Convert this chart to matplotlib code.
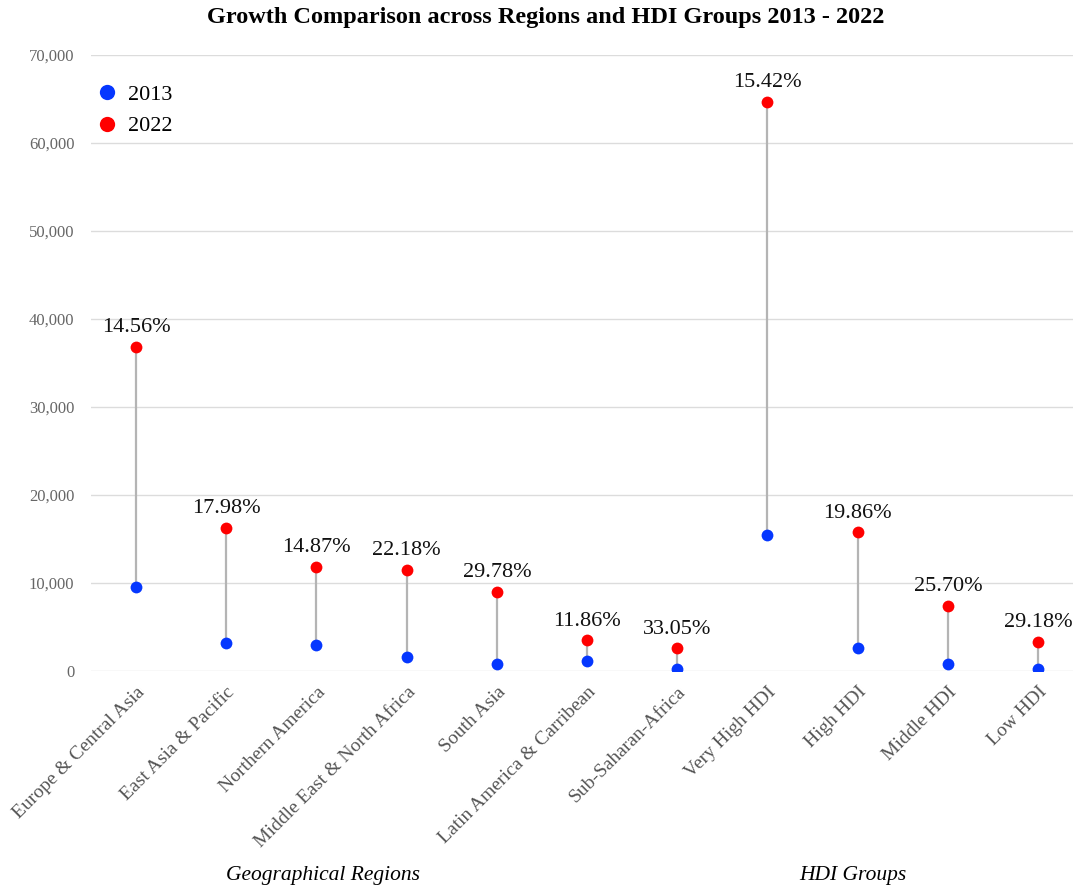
import matplotlib
matplotlib.use("Agg")
import matplotlib.pyplot as plt
from matplotlib.ticker import FuncFormatter, MultipleLocator
from matplotlib.lines import Line2D

categories = ["Europe & Central Asia", "East Asia & Pacific", "Northern America",
              "Middle East & North Africa", "South Asia", "Latin America & Carribean",
              "Sub-Saharan-Africa", "Very High HDI", "High HDI", "Middle HDI", "Low HDI"]
values_2013 = [9500, 3220, 2990, 1550, 760, 1140, 230, 15410, 2580, 790, 240]
values_2022 = [36800, 16250, 11850, 11480, 8980, 3490, 2580, 64700, 15760, 7390, 3300]
growth_labels = ["14.56%", "17.98%", "14.87%", "22.18%", "29.78%", "11.86%",
                 "33.05%", "15.42%", "19.86%", "25.70%", "29.18%"]
group_names = ["Geographical Regions", "HDI Groups"]

plt.rcParams['font.family'] = ['Liberation Serif', 'DejaVu Serif']

W, H = 1073, 888
fig = plt.figure(figsize=(W / 100, H / 100), dpi=100)
ax = fig.add_axes([91 / W, 1 - 671 / H, (W - 91) / W, (671 - 55) / H])

blue = '#0537ff'
red = '#ff0000'
x = list(range(len(categories)))

for xi, a, b in zip(x, values_2013, values_2022):
    ax.plot([xi, xi], [a, b], color='#b4b4b4', lw=1.6, zorder=2, solid_capstyle='butt')
ax.plot(x, values_2013, 'o', color=blue, ms=8.5, zorder=3, mec='none')
ax.plot(x, values_2022, 'o', color=red, ms=8.5, zorder=3, mec='none')

for xi, b, lab in zip(x, values_2022, growth_labels):
    ax.annotate(lab, (xi, b), xytext=(0, 7), textcoords='offset points',
                ha='center', va='bottom', fontsize=16, color='#111111')

ax.set_xlim(-0.5, (W - 136) / 90.2)
ax.set_ylim(0, 70000)
ax.yaxis.set_major_locator(MultipleLocator(10000))
ax.yaxis.set_major_formatter(FuncFormatter(lambda v, p: f"{int(v):,}"))
ax.grid(axis='y', color='#dcdcdc', lw=1)
ax.set_axisbelow(True)
for s in ax.spines.values():
    s.set_visible(False)
ax.tick_params(axis='both', length=0)
ax.tick_params(axis='y', labelsize=12, labelcolor='#666666', pad=12)
ax.set_xticks(x)
ax.set_xticklabels(categories, rotation=45, ha='right', rotation_mode='anchor',
                   fontsize=14, color='#555555')
ax.tick_params(axis='x', pad=9)

fig.text(546 / W, 1 - 18 / H, "Growth Comparison across Regions and HDI Groups 2013 - 2022",
         ha='center', va='center', fontsize=17.5, fontweight='bold')
fig.text(323 / W, 1 - 875 / H, group_names[0], ha='center', va='center',
         fontsize=15.5, style='italic')
fig.text(853 / W, 1 - 875 / H, group_names[1], ha='center', va='center',
         fontsize=15.5, style='italic')

handles = [Line2D([], [], marker='o', ls='none', color=blue, ms=11, mec='none'),
           Line2D([], [], marker='o', ls='none', color=red, ms=11, mec='none')]
ax.legend(handles, ["2013", "2022"], loc='upper left', bbox_to_anchor=(-0.018, 0.985),
          frameon=False, fontsize=16, handletextpad=0.35, labelspacing=0.5,
          handlelength=1.2)

fig.savefig("out.png", dpi=100, facecolor='white')
